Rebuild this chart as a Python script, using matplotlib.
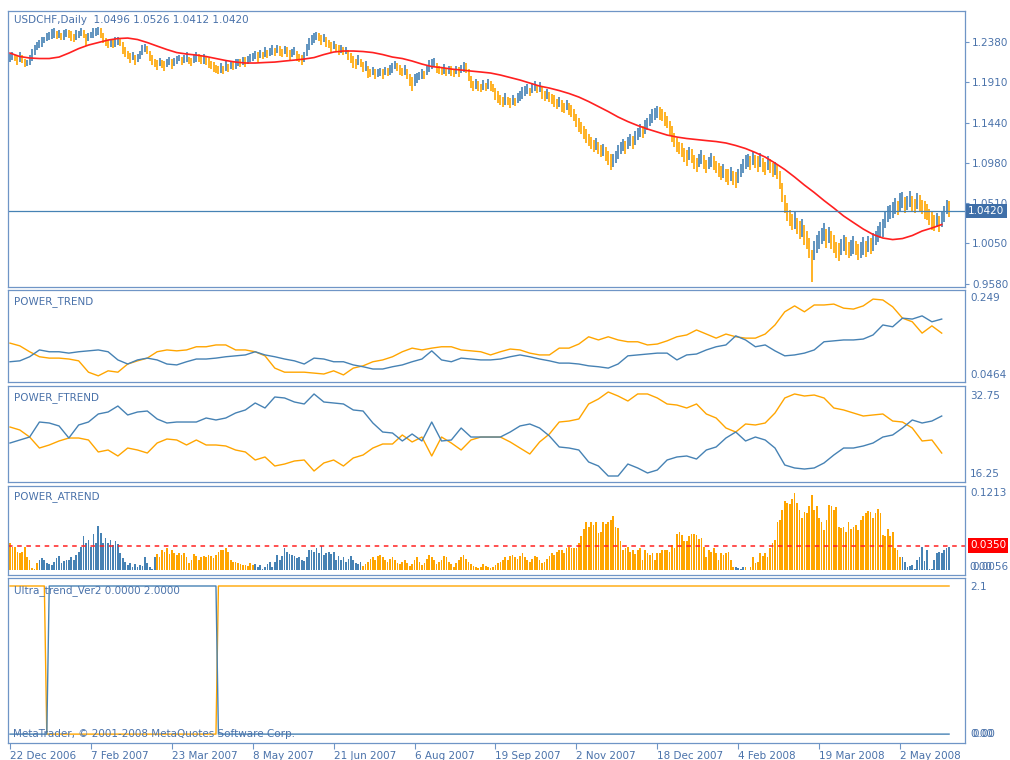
import matplotlib
matplotlib.use("Agg")
import matplotlib.pyplot as plt
import matplotlib.transforms as mtransforms
import numpy as np

# ---- data ----
date_labels = ["22 Dec 2006", "7 Feb 2007", "23 Mar 2007", "8 May 2007", "21 Jun 2007",
               "6 Aug 2007", "19 Sep 2007", "2 Nov 2007", "18 Dec 2007", "4 Feb 2008",
               "19 Mar 2008", "2 May 2008"]
label_step = 33          # daily bars between two date labels

price_ticks = [1.2380, 1.1910, 1.1440, 1.0980, 1.0510, 1.0050, 0.9580]
last_close = 1.0420
title_main = "USDCHF,Daily  1.0496 1.0526 1.0412 1.0420"

# bar middle price and half of the high-low range, in pips (1e-4)
bar_mid = [
    12192, 12215, 12192, 12168, 12203, 12180, 12134, 12134, 12168, 12226,
    12284, 12330, 12354, 12377, 12400, 12435, 12446, 12469, 12481, 12458,
    12469, 12446, 12458, 12481, 12469, 12446, 12423, 12458, 12469, 12493,
    12469, 12400, 12435, 12458, 12481, 12493, 12504, 12481, 12423, 12377,
    12354, 12365, 12354, 12377, 12388, 12377, 12307, 12261, 12226, 12192,
    12215, 12168, 12192, 12226, 12284, 12307, 12284, 12215, 12168, 12134,
    12111, 12145, 12122, 12099, 12134, 12157, 12122, 12145, 12168, 12192,
    12157, 12180, 12203, 12168, 12145, 12180, 12203, 12192, 12168, 12180,
    12157, 12134, 12111, 12087, 12064, 12053, 12076, 12053, 12099, 12076,
    12111, 12099, 12122, 12145, 12134, 12157, 12145, 12168, 12192, 12203,
    12226, 12203, 12238, 12226, 12261, 12238, 12261, 12284, 12261, 12296,
    12273, 12249, 12284, 12261, 12226, 12249, 12273, 12215, 12192, 12168,
    12203, 12284, 12354, 12400, 12423, 12446, 12435, 12400, 12423, 12377,
    12354, 12319, 12342, 12307, 12284, 12296, 12273, 12284, 12226, 12192,
    12145, 12122, 12168, 12134, 12087, 12099, 12030, 12018, 12041, 12006,
    12018, 12030, 12006, 12041, 12030, 12053, 12076, 12111, 12087, 12053,
    12030, 12053, 12006, 11937, 11891, 11937, 11960, 11983, 12006, 11995,
    12053, 12099, 12122, 12145, 12076, 12053, 12041, 12064, 12030, 12053,
    12041, 12018, 12053, 12030, 12064, 12087, 12076, 11995, 11914, 11867,
    11891, 11867, 11844, 11879, 11856, 11891, 11867, 11844, 11775, 11740,
    11705, 11682, 11717, 11694, 11671, 11705, 11682, 11729, 11752, 11786,
    11810, 11833, 11798, 11844, 11867, 11833, 11856, 11786, 11752, 11775,
    11740, 11717, 11694, 11659, 11682, 11636, 11613, 11648, 11601, 11578,
    11532, 11474, 11416, 11381, 11335, 11289, 11242, 11208, 11173, 11196,
    11150, 11115, 11127, 11080, 11034, 10988, 11011, 11046, 11104, 11150,
    11185, 11161, 11208, 11242, 11219, 11266, 11312, 11358, 11335, 11393,
    11428, 11474, 11520, 11543, 11566, 11555, 11532, 11485, 11451, 11381,
    11312, 11242, 11185, 11150, 11127, 11069, 11034, 11092, 11057, 10988,
    10953, 11011, 11046, 10988, 10941, 10976, 11011, 10976, 10930, 10895,
    10860, 10884, 10837, 10814, 10849, 10802, 10779, 10826, 10895, 10941,
    10988, 11011, 10976, 11034, 10999, 10965, 11011, 10953, 10918, 10976,
    10941, 10895, 10918, 10872, 10779, 10640, 10501, 10409, 10339, 10293,
    10316, 10247, 10201, 10224, 10143, 10085, 9992, 9784, 9969, 10038,
    10085, 10131, 10177, 10108, 10143, 10085, 10038, 9969, 9946, 10004,
    10050, 10015, 9969, 9992, 10027, 9992, 9946, 9969, 10015, 9981,
    10038, 10015, 10062, 10108, 10154, 10201, 10224, 10316, 10386, 10409,
    10432, 10478, 10455, 10525, 10548, 10490, 10513, 10559, 10501, 10478,
    10536, 10513, 10467, 10432, 10409, 10351, 10305, 10282, 10316, 10270,
    10328, 10386, 10467, 10444,
]
bar_half = [
    45, 50, 40, 55, 60, 45, 50, 40, 55, 65,
    60, 50, 45, 55, 40, 50, 45, 55, 60, 45,
    50, 40, 55, 45, 50, 60, 45, 55, 40, 50,
    45, 65, 50, 40, 55, 45, 50, 60, 55, 45,
    50, 40, 45, 55, 50, 45, 65, 55, 50, 60,
    45, 55, 50, 45, 60, 50, 45, 55, 60, 50,
    55, 45, 50, 60, 45, 50, 55, 45, 50, 40,
    50, 45, 55, 40, 50, 45, 60, 50, 45, 55,
    50, 55, 45, 60, 50, 45, 55, 50, 60, 45,
    50, 45, 55, 40, 50, 45, 55, 50, 45, 50,
    45, 55, 50, 40, 55, 45, 50, 60, 45, 50,
    55, 45, 50, 55, 60, 45, 50, 55, 45, 60,
    55, 70, 65, 60, 55, 50, 45, 55, 50, 60,
    50, 55, 45, 50, 55, 45, 50, 40, 60, 55,
    65, 60, 55, 50, 60, 55, 65, 50, 45, 55,
    50, 45, 55, 50, 45, 55, 60, 50, 45, 55,
    50, 55, 60, 70, 80, 65, 55, 50, 55, 45,
    60, 65, 55, 50, 60, 45, 50, 55, 45, 50,
    55, 50, 45, 55, 50, 60, 55, 65, 70, 60,
    55, 60, 50, 55, 45, 60, 55, 50, 70, 65,
    60, 55, 65, 50, 55, 60, 50, 55, 60, 65,
    55, 60, 50, 55, 60, 50, 55, 65, 60, 55,
    60, 55, 65, 60, 55, 65, 60, 55, 70, 65,
    70, 75, 80, 70, 75, 80, 70, 75, 65, 70,
    75, 70, 65, 80, 85, 90, 75, 70, 80, 75,
    70, 75, 65, 70, 75, 80, 70, 75, 65, 80,
    75, 70, 80, 70, 65, 75, 70, 80, 75, 85,
    90, 85, 80, 75, 80, 85, 90, 75, 80, 85,
    80, 75, 85, 80, 75, 70, 80, 85, 75, 80,
    85, 80, 75, 90, 80, 85, 90, 80, 75, 85,
    80, 75, 85, 80, 75, 90, 80, 85, 75, 80,
    85, 80, 75, 85, 100, 110, 105, 100, 95, 90,
    100, 95, 105, 100, 110, 105, 115, 185, 110, 100,
    105, 95, 100, 110, 95, 100, 105, 95, 100, 90,
    95, 100, 90, 95, 100, 85, 95, 90, 100, 95,
    90, 95, 100, 85, 95, 90, 100, 95, 90, 85,
    90, 95, 85, 100, 95, 90, 85, 95, 90, 85,
    95, 90, 85, 100, 90, 95, 100, 90, 85, 95,
    90, 95, 85, 90,
]

# moving average, one value every 4 bars, pips
ma_step = 4
ma_vals = [
    12249, 12209, 12192, 12186, 12186, 12203, 12249, 12301, 12342, 12371,
    12400, 12417, 12423, 12406, 12371, 12330, 12290, 12255, 12238, 12226,
    12209, 12186, 12163, 12145, 12134, 12134, 12140, 12145, 12157, 12168,
    12180, 12197, 12232, 12261, 12273, 12273, 12267, 12255, 12232, 12203,
    12186, 12157, 12122, 12093, 12081, 12064, 12053, 12041, 12030, 12018,
    11995, 11966, 11937, 11902, 11867, 11844, 11815, 11781, 11740, 11688,
    11630, 11572, 11509, 11456, 11410, 11370, 11335, 11300, 11277, 11260,
    11248, 11236, 11225, 11208, 11179, 11144, 11098, 11045, 10976, 10901,
    10814, 10721, 10635, 10542, 10455, 10363, 10287, 10212, 10149, 10108,
    10090, 10102, 10137, 10189, 10224, 10264,
]

# indicator lines, one value every 4 bars
line_step = 4
trend_blue = [
    .091, .093, .102, .117, .113, .113, .110, .113, .115, .117,
    .113, .095, .086, .095, .099, .095, .086, .084, .091, .097,
    .097, .099, .102, .104, .106, .113, .106, .102, .097, .093,
    .086, .099, .097, .091, .091, .084, .080, .075, .075, .080,
    .084, .091, .097, .115, .095, .091, .099, .097, .095, .095,
    .097, .102, .106, .102, .097, .093, .088, .088, .086, .082,
    .080, .077, .086, .104, .106, .108, .110, .110, .095, .106,
    .108, .117, .124, .128, .148, .139, .124, .128, .115, .104,
    .106, .110, .117, .135, .137, .139, .139, .141, .150, .172,
    .168, .187, .185, .192, .179, .185,
]
trend_orange = [
    .132, .126, .113, .102, .099, .099, .097, .093, .068, .060,
    .071, .068, .086, .093, .099, .113, .117, .115, .117, .124,
    .124, .128, .128, .117, .117, .113, .104, .077, .068, .068,
    .068, .066, .064, .071, .062, .077, .082, .091, .095, .102,
    .113, .121, .117, .121, .124, .124, .117, .115, .113, .106,
    .113, .119, .117, .110, .106, .106, .121, .121, .130, .146,
    .139, .146, .139, .135, .135, .128, .130, .137, .146, .150,
    .161, .152, .143, .152, .146, .143, .143, .152, .172, .201,
    .214, .201, .216, .216, .218, .209, .207, .214, .229, .227,
    .212, .187, .179, .154, .170, .154,
]
ftrend_blue = [
    22.95, 23.47, 23.98, 26.56, 26.39, 25.88, 23.81, 26.05, 26.56, 27.94,
    28.28, 29.31, 27.77, 28.28, 28.45, 27.08, 26.39, 26.56, 26.56, 26.56,
    27.25, 26.91, 27.25, 28.11, 28.63, 29.83, 28.97, 30.86, 30.69, 30.00,
    29.66, 31.38, 30.00, 29.83, 29.66, 28.63, 28.45, 26.39, 24.84, 24.67,
    23.30, 24.50, 23.30, 26.56, 23.30, 23.47, 25.53, 23.98, 23.98, 23.98,
    23.98, 24.84, 25.88, 26.22, 25.53, 24.16, 22.27, 22.09, 21.75, 19.69,
    19.00, 17.28, 17.28, 19.34, 18.66, 17.80, 18.31, 20.03, 20.55, 20.72,
    20.20, 21.75, 22.27, 23.81, 24.84, 23.30, 23.98, 23.47, 22.09, 19.17,
    18.66, 18.48, 18.66, 19.52, 20.89, 22.09, 22.09, 22.44, 22.95, 23.98,
    24.33, 25.53, 26.91, 26.39, 26.73, 27.59,
]
ftrend_orange = [
    25.70, 25.19, 23.98, 22.09, 22.61, 23.30, 23.81, 23.81, 23.47, 21.41,
    21.75, 20.72, 22.09, 21.75, 21.23, 22.95, 23.64, 23.47, 22.61, 23.47,
    22.61, 22.61, 22.44, 21.75, 21.41, 20.03, 20.55, 19.00, 19.34, 19.86,
    20.03, 18.14, 19.52, 20.03, 19.00, 20.38, 20.89, 22.09, 22.78, 22.78,
    24.33, 23.13, 23.98, 20.72, 23.98, 22.95, 21.75, 23.47, 23.98, 23.98,
    23.98, 23.13, 22.09, 21.06, 23.13, 24.50, 26.56, 26.73, 27.08, 29.66,
    30.52, 31.72, 31.03, 30.17, 31.38, 31.38, 30.69, 29.66, 29.48, 28.97,
    29.66, 27.94, 27.25, 25.53, 24.84, 26.22, 26.05, 26.39, 28.11, 30.69,
    31.38, 31.03, 31.20, 30.69, 28.97, 28.63, 28.11, 27.59, 27.77, 27.94,
    26.73, 26.56, 25.53, 23.30, 23.47, 21.23,
]

# POWER_ATREND histogram, one value per bar, in 1e-3
atrend = [
    38, 33, 33, 26, 24, 26, 33, 19, 14, 3, 1, 10, 15, 17, 14, 10, 9, 7, 11, 17,
    20, 10, 13, 14, 15, 18, 15, 21, 26, 33, 48, 38, 43, 33, 51, 38, 63, 53, 38, 46,
    38, 43, 36, 42, 37, 24, 17, 12, 7, 10, 5, 9, 5, 7, 6, 18, 10, 4, 1, 19,
    23, 19, 29, 26, 31, 23, 28, 25, 21, 24, 22, 24, 19, 10, 15, 23, 20, 14, 18, 20,
    19, 21, 20, 17, 21, 26, 29, 28, 32, 26, 15, 12, 12, 10, 9, 7, 7, 6, 10, 7,
    9, 5, 7, 2, 4, 9, 12, 4, 12, 21, 15, 20, 31, 26, 23, 21, 20, 17, 19, 14,
    13, 19, 28, 29, 26, 31, 25, 35, 21, 25, 26, 23, 26, 15, 20,
    14, 18, 12, 16, 20, 15, 10, 8, 12, 6, 9,
    12, 16, 18, 14, 20, 22, 18, 15, 12, 16, 19, 14, 10,
    8, 12, 15, 10, 6, 9, 14, 18, 12, 7, 10, 16, 22, 18, 14, 9, 12,
    15, 20, 18, 12, 8, 5, 10, 14, 18, 22, 16, 12, 8, 6, 4, 3, 5, 8, 6, 4, 3, 5, 7, 10, 12,
    14, 18, 15, 20, 22, 18, 16, 20, 24, 19, 15, 12, 16, 20, 18, 14, 10, 12, 16, 20, 24, 22, 26, 28,
    29, 25, 31, 33, 31, 31, 31, 38, 48, 58, 68, 62, 68, 64, 68, 53, 55, 68, 66, 69,
    71, 77, 62, 60, 42, 29, 31, 33, 26, 29, 23, 29, 31, 15, 28, 25, 22, 25, 14, 25,
    24, 29, 29, 29, 26, 36, 31, 52, 55, 50, 42, 41, 49, 51, 52, 50, 45, 46, 33, 19,
    28, 26, 31, 24, 14, 25, 22, 24, 26, 14, 4, 5, 3, 2, 5, 4, 0, 4, 18, 10,
    12, 24, 20, 25, 19, 31, 39, 43, 69, 71, 86, 99, 96, 94, 101, 110, 96, 86, 75, 83,
    82, 91, 107, 86, 91, 75, 69, 57, 71, 93, 92, 86, 90, 62, 60, 62, 55, 69, 59, 62,
    64, 57, 71, 77, 82, 85, 83, 74, 81, 87, 81, 50, 49, 59, 48, 55, 31, 29, 19, 18,
    12, 4, 6, 7, 1, 14, 18, 33, 13, 29, 1, 2, 14, 25, 26, 25, 28, 31, 33,
]
atrend_level = 0.0350

# Ultra_trend_Ver2 as (value, number of bars) runs
ultra_orange_runs = [(2, 15), (0, 70), (2, 299)]
ultra_blue_runs = [(0, 16), (2, 69), (0, 299)]

# ---- style ----
BLUE = "#4682B4"
ORANGE = "#FFA500"
BORDER = "#6f95c6"
TXT = "#4a72aa"
FS = 7.5
plt.rcParams["font.family"] = ["DejaVu Sans"]

W, H = 1010, 760
fig = plt.figure(figsize=(W / 100, H / 100), dpi=100)
fig.patch.set_facecolor("white")

N = len(bar_mid)
x_lo, x_hi = -0.82, 389.5


def panel(top, bottom):
    ax = fig.add_axes([8 / W, 1 - bottom / H, (965 - 8) / W, (bottom - top) / H])
    for s in ax.spines.values():
        s.set_color(BORDER)
        s.set_linewidth(0.9)
    ax.set_xlim(x_lo, x_hi)
    ax.set_xticks([])
    ax.set_yticks([])
    return ax


def right_label(ypx, s, xpx=970, **kw):
    fig.text(xpx / W, 1 - ypx / H, s, ha="left", va="center", fontsize=FS,
             color=kw.pop("color", TXT), **kw)


# ---- main price window ----
ax = panel(10.5, 287)
mid = np.array(bar_mid) / 1e4
half = np.array(bar_half) / 1e4
xb = np.arange(N)
up = np.r_[True, np.diff(mid) >= 0]
ax.vlines(xb[up], (mid - half)[up], (mid + half)[up], color=BLUE, lw=1.2)
ax.vlines(xb[~up], (mid - half)[~up], (mid + half)[~up], color=ORANGE, lw=1.2)
ax.plot(np.arange(len(ma_vals)) * ma_step, np.array(ma_vals) / 1e4, color="#ff2020", lw=1.2)
ax.axhline(last_close, color=BLUE, lw=0.9)
ax.set_ylim(0.9541, 1.2742)
ax.yaxis.tick_right()
ax.set_yticks(price_ticks)
ax.set_yticklabels(["%.4f" % v for v in price_ticks])
ax.tick_params(axis="y", direction="out", length=3, width=0.8, color=BORDER,
               labelcolor=TXT, labelsize=FS, pad=2)
ax.text(6 / 957, 1 - 9.5 / 276.5, title_main, transform=ax.transAxes,
        ha="left", va="center", fontsize=FS, color=TXT)
tr = mtransforms.blended_transform_factory(ax.transAxes, ax.transData)
ax.text(1 + 3 / 957, last_close, "%.4f" % last_close, transform=tr, ha="left", va="center",
        fontsize=FS, color="white", clip_on=False, zorder=5,
        bbox=dict(boxstyle="square,pad=0.22", fc="#3f6fa8", ec="none"))

# ---- POWER_TREND ----
ax1 = panel(290, 382)
xl = np.arange(len(trend_blue)) * line_step
ax1.plot(xl, trend_orange, color=ORANGE, lw=1.0)
ax1.plot(xl, trend_blue, color=BLUE, lw=1.0)
ax1.set_ylim(0.0464, 0.249)
ax1.text(6 / 957, 1 - 12 / 92, "POWER_TREND", transform=ax1.transAxes,
         ha="left", va="center", fontsize=FS, color=TXT)
right_label(298, "0.249")
right_label(375, "0.0464")

# ---- POWER_FTREND ----
ax2 = panel(386, 482)
xf = np.arange(len(ftrend_blue)) * line_step
ax2.plot(xf, ftrend_orange, color=ORANGE, lw=1.0)
ax2.plot(xf, ftrend_blue, color=BLUE, lw=1.0)
ax2.set_ylim(16.25, 32.75)
ax2.text(6 / 957, 1 - 12 / 96, "POWER_FTREND", transform=ax2.transAxes,
         ha="left", va="center", fontsize=FS, color=TXT)
right_label(396, "32.75")
right_label(474, "16.25")

# ---- POWER_ATREND ----
ax3 = panel(486, 575)
av = np.array(atrend) / 1000.0
blue_up = np.repeat(np.array(trend_blue) >= np.array(trend_orange), line_step)[:len(av)]
xa = np.arange(len(av))
ax3.bar(xa[blue_up], av[blue_up], width=0.7, color=BLUE, linewidth=0)
ax3.bar(xa[~blue_up], av[~blue_up], width=0.7, color=ORANGE, linewidth=0)
ax3.axhline(atrend_level, color="#ff2020", lw=1.1, ls=(0, (3, 3)))
ax3.set_ylim(-0.0071, 0.1200)
ax3.text(6 / 957, 1 - 11 / 89, "POWER_ATREND", transform=ax3.transAxes,
         ha="left", va="center", fontsize=FS, color=TXT)
right_label(493, "0.1213")
fig.text(970 / W, 1 - 545.5 / H, "%.4f" % atrend_level, ha="left", va="center",
         fontsize=FS, color="white",
         bbox=dict(boxstyle="square,pad=0.22", fc="#ff0000", ec="none"))
right_label(567, "0.0056", xpx=972)
right_label(567, "0.00", xpx=969)

# ---- Ultra_trend_Ver2 ----
ax4 = panel(578, 743)
uo = np.repeat([v for v, n in ultra_orange_runs], [n for v, n in ultra_orange_runs])
ub = np.repeat([v for v, n in ultra_blue_runs], [n for v, n in ultra_blue_runs])
ax4.plot(np.arange(len(uo)), uo, color=ORANGE, lw=1.0)
ax4.plot(np.arange(len(ub)), ub, color=BLUE, lw=1.0)
ax4.set_ylim(-0.12, 2.108)
ax4.text(6 / 957, 1 - 13 / 165, "Ultra_trend_Ver2 0.0000 2.0000", transform=ax4.transAxes,
         ha="left", va="center", fontsize=FS, color=TXT)
ax4.text(5 / 957, 9 / 165, "MetaTrader, \u00a9 2001-2008 MetaQuotes Software Corp.",
         transform=ax4.transAxes, ha="left", va="center", fontsize=FS, color=TXT)
right_label(587, "2.1")
right_label(734, "0.00", xpx=970)
right_label(734, "0.00", xpx=972)

ax4.set_xticks(np.arange(len(date_labels)) * label_step)
ax4.set_xticklabels(date_labels, ha="left")
ax4.tick_params(axis="x", direction="out", length=4, width=0.8, color=BORDER,
                labelcolor=TXT, labelsize=FS, pad=1.5)

fig.savefig("out.png", dpi=100, facecolor="white")
